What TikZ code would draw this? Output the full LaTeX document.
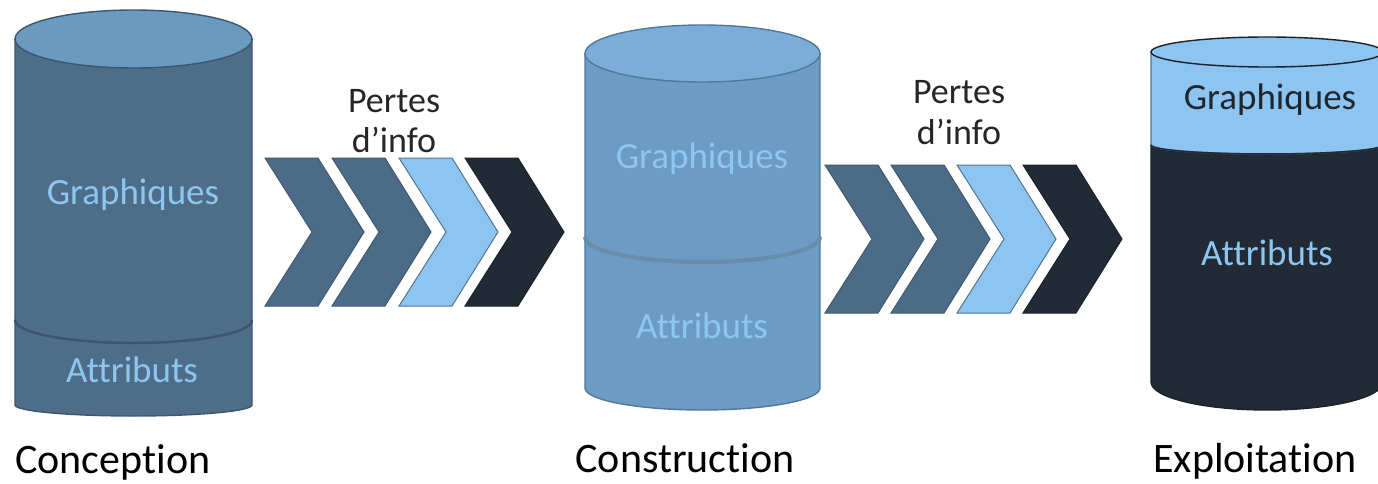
\documentclass[tikz,border=0pt]{standalone}
\usepackage{fontspec}
\setmainfont{Carlito}[Ligatures={NoCommon}]
\definecolor{steel}{HTML}{4E6D88}
\definecolor{steeltop}{HTML}{6A9AC0}
\definecolor{steelline}{HTML}{3C566D}
\definecolor{mid}{HTML}{6C9CC4}
\definecolor{midtop}{HTML}{7AAED8}
\definecolor{midline}{HTML}{4F7899}
\definecolor{sky}{HTML}{8DC4F0}
\definecolor{skyline}{HTML}{4F7594}
\definecolor{navy}{HTML}{212A35}
\definecolor{navyline}{HTML}{1A222B}
\definecolor{lighttext}{HTML}{8DC6F0}
\definecolor{darktext}{HTML}{1E2630}
\definecolor{chevmid}{HTML}{4C6B86}
\definecolor{chevmidline}{HTML}{3E5970}
\tikzset{
  x=1pt, y=1pt,
  inner label/.style={font=\fontsize{37}{44}\selectfont, anchor=base, inner sep=0pt},
  stage label/.style={font=\fontsize{42}{50}\selectfont, anchor=base, inner sep=0pt, text=black},
  loss label/.style={font=\fontsize{36}{39}\selectfont, anchor=base, inner sep=0pt, text=black!85},
  cyl edge/.style={line width=1.4pt},
}
% chevron: #1 left x, #2 top y, #3 fill, #4 outline
\newcommand\chevron[4]{%
  \filldraw[fill=#3, draw=#4, line width=1pt, line join=miter]
    (#1,-#2) -- ++(53,0) -- ++(46,-74) -- ++(-46,-74) -- ++(-53,0) -- ++(47,74) -- cycle;}
\begin{document}
\begin{tikzpicture}
\useasboundingbox (0,0) rectangle (1378,-484);

% ---- Conception cylinder ----
\filldraw[fill=steel, draw=steelline, cyl edge]
  (15,-320) -- (15,-405) arc[start angle=180, end angle=360, x radius=118.5pt, y radius=11pt]
  -- (252,-320) -- cycle;
\filldraw[fill=steel, draw=steelline, cyl edge]
  (15,-39) -- (15,-320) arc[start angle=180, end angle=360, x radius=118.5pt, y radius=23pt]
  -- (252,-39) -- cycle;
\draw[steelline, line width=2.5pt] (15,-320) arc[start angle=180, end angle=360, x radius=118.5pt, y radius=23pt];
\filldraw[fill=steeltop, draw=steelline, cyl edge] (133.5,-39) ellipse[x radius=118.5pt, y radius=29pt];
\node[inner label, text=lighttext] (c1g) at (133,-204) {Graphiques};
\node[inner label, text=lighttext] (c1a) at (132,-382) {Attributs};
\node[stage label, anchor=base west] (conception) at (15,-473) {Conception};

% ---- Construction cylinder ----
\filldraw[fill=mid, draw=midline, cyl edge]
  (585,-237) -- (585,-388) arc[start angle=180, end angle=360, x radius=117.5pt, y radius=22pt]
  -- (820,-237) -- cycle;
\filldraw[fill=mid, draw=midline, cyl edge]
  (585,-53.5) -- (585,-237) arc[start angle=180, end angle=360, x radius=117.5pt, y radius=25pt]
  -- (820,-53.5) -- cycle;
\draw[midline!85, line width=4pt] (585,-237) arc[start angle=180, end angle=360, x radius=117.5pt, y radius=25pt];
\filldraw[fill=midtop, draw=midline, cyl edge] (702.5,-53.5) ellipse[x radius=117.5pt, y radius=28.5pt];
\node[inner label, text=lighttext] (c2g) at (702,-168) {Graphiques};
\node[inner label, text=lighttext] (c2a) at (702,-338) {Attributs};
\node[stage label] (construction) at (685,-472) {Construction};

% ---- Exploitation cylinder ----
\filldraw[fill=navy, draw=navyline, cyl edge]
  (1151,-145) -- (1151,-382) arc[start angle=180, end angle=360, x radius=116pt, y radius=28pt]
  -- (1383,-145) -- cycle;
\filldraw[fill=sky, draw=skyline, cyl edge]
  (1151,-52) -- (1151,-145) arc[start angle=180, end angle=360, x radius=116pt, y radius=9pt]
  -- (1383,-52) -- cycle;
\draw[navy, line width=1.5pt] (1151,-145) arc[start angle=180, end angle=360, x radius=116pt, y radius=9pt];
\filldraw[fill=sky, draw=navyline, cyl edge] (1267,-52) ellipse[x radius=116pt, y radius=15pt];
\node[inner label, text=darktext] (c3g) at (1270,-110) {Graphiques};
\node[inner label, text=lighttext] (c3a) at (1267,-265) {Attributs};
\node[stage label] (exploitation) at (1255,-472) {Exploitation};

% ---- chevrons between the stages ----
\chevron{265}{158}{chevmid}{chevmidline}
\chevron{332}{158}{chevmid}{chevmidline}
\chevron{399}{158}{sky}{skyline}
\chevron{465}{158}{navy}{navyline}
\node[loss label] (loss1a) at (394,-113) {Pertes};
\node[loss label] (loss1b) at (394,-152) {d’info};

\chevron{825}{165}{chevmid}{chevmidline}
\chevron{891}{165}{chevmid}{chevmidline}
\chevron{957}{165}{sky}{skyline}
\chevron{1023}{165}{navy}{navyline}
\node[loss label] (loss2a) at (959,-104) {Pertes};
\node[loss label] (loss2b) at (959,-144) {d’info};
\end{tikzpicture}
\end{document}
